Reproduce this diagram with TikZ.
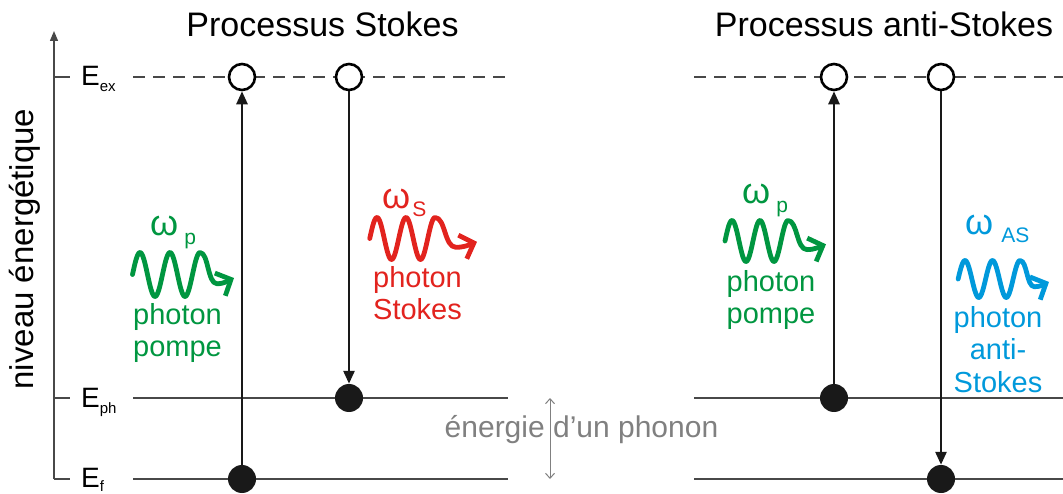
\documentclass[tikz,border=0pt]{standalone}
\usepackage{fontspec}
\setmainfont{Liberation Sans}
\usetikzlibrary{arrows.meta}
\definecolor{pgreen}{RGB}{0,150,64}
\definecolor{sred}{RGB}{226,35,30}
\definecolor{asblue}{RGB}{0,153,219}
\definecolor{lvl}{RGB}{72,72,72}
\definecolor{txtgray}{RGB}{128,128,128}
\newcommand\fsz[1]{\fontsize{#1}{#1}\selectfont}
% colour, first-peak x, mid y, period, amplitude, tail length
\newcommand\photonwave[6]{%
  \pgfmathsetmacro\wxo{#2-#4/3}%
  \pgfmathsetmacro\wk{360/#4}%
  \begin{scope}[shift={(\wxo,#3)}]
    \pgfmathsetmacro\wa{#4/12}%
    \pgfmathsetmacro\wb{7*#4/3}%
    \pgfmathsetmacro\wp{#4/3}%
    \pgfmathsetmacro\wta{\wb+0.25*#6}%
    \pgfmathsetmacro\wtb{\wb+0.22*#6}%
    \pgfmathsetmacro\wtc{\wb+0.5*#6}%
    \pgfmathsetmacro\wtd{\wb+0.72*#6}%
    \pgfmathsetmacro\wte{\wb+0.86*#6}%
    \pgfmathsetmacro\wtf{\wb+#6}%
    \draw[photonline,#1] plot[domain=\wa:\wb,samples=80,smooth] (\x,{-#5*cos(\wk*(\x-\wp))})
      .. controls (\wta,-#5) and (\wtb,0.42*#5) .. (\wtc,0.42*#5)
      .. controls (\wtd,0.42*#5) and (\wte,0.26*#5) .. (\wtf,0.16*#5);
  \end{scope}}
\tikzset{
  lvlsolid/.style={draw=lvl, line width=1.3pt},
  lvldash/.style={draw=lvl, line width=1.3pt, dash pattern=on 12pt off 8pt},
  axisline/.style={draw=lvl, line width=1.3pt, -{Triangle[length=10pt,width=8pt]}},
  excirc/.style={circle, draw=black, line width=2.6pt, fill=white, minimum size=26pt, inner sep=0pt},
  gscirc/.style={circle, fill=black!90, minimum size=28pt, inner sep=0pt},
  trans/.style={draw=black!90, line width=2.6pt, -{Triangle[length=13pt,width=11pt]}},
  phon/.style={draw=txtgray, line width=1pt, {Straight Barb[length=5pt,width=9pt]}-{Straight Barb[length=5pt,width=9pt]}},
  photonline/.style={line width=4.8pt, line cap=round, line join=round, -{Straight Barb[length=12pt,width=25pt]}},
  photxt/.style={anchor=base, inner sep=0pt, font={\fontsize{29}{32}\selectfont}},
  omg/.style={anchor=base west, inner sep=0pt},
  elabel/.style={anchor=base west, inner sep=0pt},
  titlelbl/.style={anchor=base, inner sep=0pt, font={\fsz{34}}}
}
\begin{document}
\begin{tikzpicture}[x=1pt,y=-1pt]
\useasboundingbox (0,0) rectangle (1063,494);
\def\yex{77}\def\yph{398}\def\yf{479}
% axis
\coordinate (axB) at (54,\yf);
\coordinate (axT) at (54,31);
\draw[axisline] (axB) -- (axT);
\coordinate (tkA1) at (54,\yex); \coordinate (tkA2) at (70,\yex);
\coordinate (tkB1) at (54,\yph); \coordinate (tkB2) at (70,\yph);
\coordinate (tkC1) at (54,\yf);  \coordinate (tkC2) at (70,\yf);
\draw[lvlsolid] (tkA1) -- (tkA2);
\draw[lvlsolid] (tkB1) -- (tkB2);
\draw[lvlsolid] (tkC1) -- (tkC2);
\node[rotate=90, anchor=base, inner sep=0pt, font={\fsz{33}}] (ylab) at (33,249) {niveau énergétique};
\node[elabel] (lex) at (81,\yex+9) {\fsz{28}E\fsz{15}\raisebox{-6pt}{ex}};
\node[elabel] (lph) at (81,\yph+9) {\fsz{28}E\fsz{15}\raisebox{-6pt}{ph}};
\node[elabel] (lf)  at (81,\yf+8)  {\fsz{28}E\fsz{15}\raisebox{-4pt}{f}};
% level lines
\coordinate (exL1) at (133,\yex); \coordinate (exL2) at (508,\yex);
\coordinate (phL1) at (133,\yph); \coordinate (phL2) at (508,\yph);
\coordinate (fL1)  at (133,\yf);  \coordinate (fL2)  at (508,\yf);
\coordinate (exR1) at (694,\yex); \coordinate (exR2) at (1063,\yex);
\coordinate (phR1) at (694,\yph); \coordinate (phR2) at (1063,\yph);
\coordinate (fR1)  at (694,\yf);  \coordinate (fR2)  at (1063,\yf);
\draw[lvldash] (exL1) -- (exL2);
\draw[lvldash] (exR1) -- (exR2);
\draw[lvlsolid] (phL1) -- (phL2);
\draw[lvlsolid] (fL1) -- (fL2);
\draw[lvlsolid] (phR1) -- (phR2);
\draw[lvlsolid] (fR1) -- (fR2);
% titles
\node[titlelbl] (tS) at (322.5,37) {Processus Stokes};
\node[titlelbl] (tAS) at (884,37) {Processus anti-Stokes};
% states
\node[excirc] (exA) at (242,\yex) {};
\node[excirc] (exB) at (349,\yex) {};
\node[gscirc] (gA) at (242,\yf) {};
\node[gscirc] (gB) at (349,\yph) {};
\node[excirc] (exC) at (834,\yex) {};
\node[excirc] (exD) at (941,\yex) {};
\node[gscirc] (gC) at (834,\yph) {};
\node[gscirc] (gD) at (941,\yf) {};
% transitions
\draw[trans] (gA) -- (exA);
\draw[trans] (exB) -- (gB);
\draw[trans] (gC) -- (exC);
\draw[trans] (exD) -- (gD);
% phonon energy
\coordinate (phA) at (550,\yph);
\coordinate (phB) at (550,\yf);
\draw[phon] (phA) -- (phB);
\node[anchor=base, inner sep=0pt, text=txtgray, font={\fsz{30}}] (phtxt) at (581.5,437) {énergie d’un phonon};
% photons
\photonwave{pgreen}{140}{274.5}{30}{22}{34}
\photonwave{sred}{377}{238.5}{29}{21}{42}
\photonwave{pgreen}{732}{241}{28}{20.5}{38}
\photonwave{asblue}{965}{279}{27.5}{18.5}{29}
\node[omg, text=pgreen] (wA) at (150,236) {\fsz{36}ω\hspace{6pt}\raisebox{-9pt}{\fsz{21}p}};
\node[omg, text=sred] (wB) at (382,209) {\fsz{36}ω\hspace{2pt}\raisebox{-8pt}{\fsz{21}S}};
\node[omg, text=pgreen] (wC) at (742,204) {\fsz{36}ω\hspace{6pt}\raisebox{-9pt}{\fsz{21}p}};
\node[omg, text=asblue] (wD) at (965,235) {\fsz{36}ω\hspace{8pt}\raisebox{-8pt}{\fsz{21}AS}};
\node[photxt, text=pgreen] (pA) at (177.5,325) {\begin{tabular}[t]{@{}c@{}}photon\\pompe\end{tabular}};
\node[photxt, text=sred] (pB) at (417.5,288) {\begin{tabular}[t]{@{}c@{}}photon\\Stokes\end{tabular}};
\node[photxt, text=pgreen] (pC) at (771,292) {\begin{tabular}[t]{@{}c@{}}photon\\pompe\end{tabular}};
\node[photxt, text=asblue] (pD) at (998,328) {\begin{tabular}[t]{@{}c@{}}photon\\anti-\\Stokes\end{tabular}};
\end{tikzpicture}
\end{document}
